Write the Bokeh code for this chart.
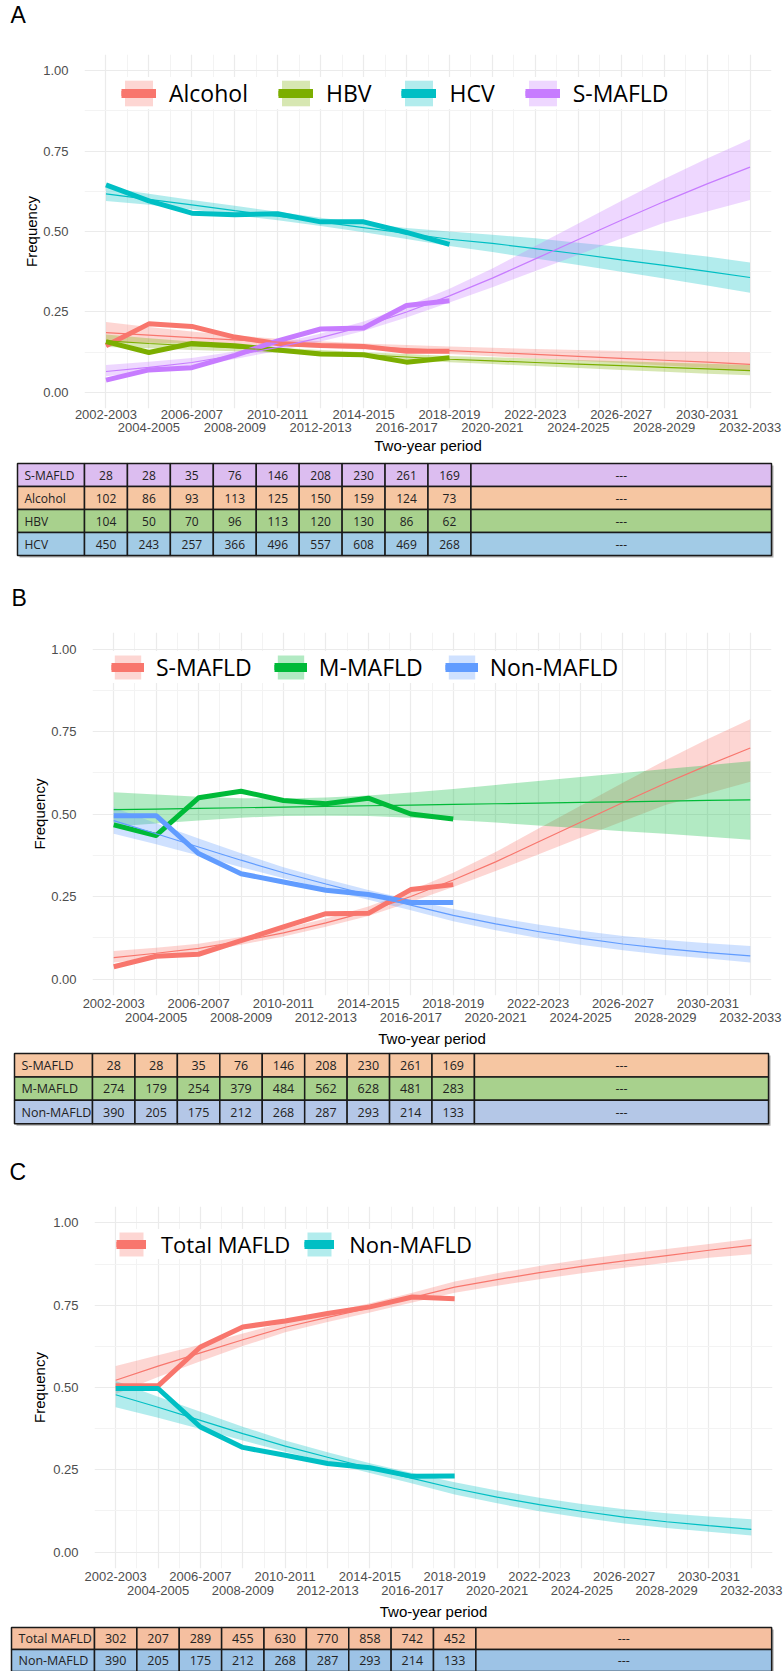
from bokeh.plotting import figure
from bokeh.models import (Range1d, FixedTicker, LinearAxis, Legend, LegendItem,
                          NumeralTickFormatter, CustomJSTickFormatter, ColumnDataSource)
from bokeh.layouts import column
from bokeh.embed import file_html
from bokeh.resources import INLINE
from bokeh.core.properties import value

# ---------------- data ----------------
periods = ["2002-2003", "2004-2005", "2006-2007", "2008-2009", "2010-2011", "2012-2013",
           "2014-2015", "2016-2017", "2018-2019", "2020-2021", "2022-2023", "2024-2025",
           "2026-2027", "2028-2029", "2030-2031", "2032-2033"]
x_all = list(range(len(periods)))
x_obs = list(range(9))
panel_letters = ["A", "B", "C"]

# Panel A
a_alc_obs = [0.145, 0.213, 0.205, 0.172, 0.152, 0.146, 0.143, 0.128, 0.128]
a_alc_fit = [0.186, 0.178, 0.170, 0.163, 0.156, 0.149, 0.142, 0.136, 0.130, 0.124, 0.118, 0.112, 0.106, 0.100, 0.094, 0.087]
a_alc_hi = [0.219, 0.203, 0.189, 0.177, 0.167, 0.159, 0.152, 0.147, 0.143, 0.139, 0.135, 0.132, 0.129, 0.127, 0.126, 0.125]
a_alc_lo = [0.156, 0.154, 0.152, 0.149, 0.145, 0.139, 0.133, 0.126, 0.119, 0.112, 0.105, 0.098, 0.091, 0.084, 0.077, 0.069]

a_hbv_obs = [0.158, 0.124, 0.152, 0.145, 0.132, 0.119, 0.117, 0.094, 0.108]
a_hbv_fit = [0.160, 0.152, 0.145, 0.138, 0.131, 0.124, 0.117, 0.110, 0.103, 0.098, 0.093, 0.088, 0.083, 0.078, 0.073, 0.068]
a_hbv_hi = [0.180, 0.168, 0.158, 0.148, 0.139, 0.132, 0.125, 0.119, 0.113, 0.109, 0.105, 0.101, 0.097, 0.093, 0.089, 0.085]
a_hbv_lo = [0.141, 0.137, 0.132, 0.128, 0.123, 0.116, 0.109, 0.101, 0.094, 0.088, 0.082, 0.076, 0.070, 0.064, 0.058, 0.053]

a_hcv_obs = [0.645, 0.595, 0.557, 0.552, 0.555, 0.530, 0.530, 0.497, 0.460]
a_hcv_fit = [0.617, 0.600, 0.583, 0.565, 0.548, 0.530, 0.512, 0.494, 0.476, 0.463, 0.447, 0.430, 0.412, 0.395, 0.376, 0.357]
a_hcv_hi = [0.637, 0.617, 0.598, 0.580, 0.561, 0.543, 0.526, 0.511, 0.500, 0.490, 0.479, 0.465, 0.452, 0.438, 0.422, 0.404]
a_hcv_lo = [0.595, 0.583, 0.568, 0.551, 0.535, 0.517, 0.498, 0.477, 0.455, 0.436, 0.416, 0.396, 0.375, 0.354, 0.332, 0.310]

a_sm_obs = [0.038, 0.070, 0.077, 0.115, 0.160, 0.197, 0.200, 0.270, 0.285]
a_sm_fit = [0.065, 0.078, 0.093, 0.115, 0.140, 0.170, 0.205, 0.250, 0.300, 0.355, 0.415, 0.475, 0.535, 0.593, 0.648, 0.700]
a_sm_hi = [0.085, 0.095, 0.107, 0.127, 0.152, 0.183, 0.220, 0.268, 0.322, 0.385, 0.455, 0.525, 0.595, 0.663, 0.727, 0.787]
a_sm_lo = [0.050, 0.064, 0.080, 0.104, 0.129, 0.158, 0.191, 0.233, 0.279, 0.327, 0.377, 0.428, 0.478, 0.527, 0.562, 0.598]

# Panel B
b_sm_obs = [0.037, 0.069, 0.075, 0.116, 0.158, 0.198, 0.199, 0.271, 0.286]
b_sm_fit = [0.065, 0.078, 0.093, 0.115, 0.140, 0.170, 0.205, 0.250, 0.300, 0.355, 0.415, 0.475, 0.535, 0.593, 0.648, 0.700]
b_sm_hi = [0.085, 0.095, 0.107, 0.127, 0.152, 0.183, 0.220, 0.268, 0.322, 0.385, 0.455, 0.525, 0.595, 0.663, 0.727, 0.787]
b_sm_lo = [0.050, 0.064, 0.080, 0.104, 0.129, 0.158, 0.191, 0.233, 0.279, 0.327, 0.377, 0.428, 0.478, 0.527, 0.562, 0.598]

b_mm_obs = [0.467, 0.435, 0.549, 0.569, 0.541, 0.531, 0.548, 0.500, 0.485]
b_mm_fit = [0.513, 0.515, 0.517, 0.519, 0.521, 0.523, 0.525, 0.527, 0.529, 0.531, 0.533, 0.535, 0.537, 0.539, 0.541, 0.543]
b_mm_hi = [0.566, 0.559, 0.552, 0.548, 0.547, 0.550, 0.556, 0.565, 0.576, 0.588, 0.600, 0.612, 0.624, 0.636, 0.648, 0.660]
b_mm_lo = [0.462, 0.471, 0.480, 0.489, 0.494, 0.495, 0.494, 0.489, 0.482, 0.474, 0.465, 0.457, 0.448, 0.440, 0.431, 0.422]

b_nm_obs = [0.495, 0.495, 0.380, 0.319, 0.294, 0.269, 0.256, 0.232, 0.232]
b_nm_fit = [0.480, 0.440, 0.400, 0.360, 0.322, 0.288, 0.255, 0.224, 0.193, 0.167, 0.144, 0.124, 0.106, 0.092, 0.080, 0.070]
b_nm_hi = [0.520, 0.472, 0.426, 0.381, 0.339, 0.303, 0.270, 0.240, 0.212, 0.187, 0.165, 0.146, 0.130, 0.118, 0.108, 0.100]
b_nm_lo = [0.440, 0.408, 0.374, 0.339, 0.305, 0.273, 0.240, 0.208, 0.175, 0.148, 0.124, 0.104, 0.087, 0.073, 0.062, 0.050]

# Panel C
c_tot_obs = [0.505, 0.505, 0.623, 0.684, 0.702, 0.725, 0.745, 0.775, 0.770]
c_tot_fit = [0.522, 0.565, 0.605, 0.645, 0.683, 0.713, 0.742, 0.773, 0.805, 0.828, 0.849, 0.868, 0.885, 0.901, 0.917, 0.932]
c_tot_hi = [0.565, 0.598, 0.630, 0.664, 0.698, 0.727, 0.756, 0.788, 0.822, 0.847, 0.869, 0.889, 0.906, 0.921, 0.936, 0.952]
c_tot_lo = [0.480, 0.532, 0.580, 0.626, 0.668, 0.699, 0.728, 0.758, 0.788, 0.809, 0.829, 0.847, 0.864, 0.879, 0.894, 0.905]

c_nm_obs = [0.497, 0.497, 0.380, 0.318, 0.294, 0.269, 0.256, 0.230, 0.231]
c_nm_fit = [0.478, 0.440, 0.400, 0.360, 0.322, 0.288, 0.255, 0.224, 0.193, 0.167, 0.144, 0.124, 0.106, 0.092, 0.080, 0.069]
c_nm_hi = [0.520, 0.472, 0.426, 0.381, 0.339, 0.303, 0.270, 0.240, 0.212, 0.187, 0.165, 0.146, 0.130, 0.118, 0.108, 0.100]
c_nm_lo = [0.440, 0.408, 0.374, 0.339, 0.305, 0.273, 0.240, 0.208, 0.175, 0.148, 0.124, 0.104, 0.087, 0.073, 0.062, 0.050]

# Tables (counts)
tA_names = ["S-MAFLD", "Alcohol", "HBV", "HCV"]
tA_smafld = [28, 28, 35, 76, 146, 208, 230, 261, 169]
tA_alcohol = [102, 86, 93, 113, 125, 150, 159, 124, 73]
tA_hbv = [104, 50, 70, 96, 113, 120, 130, 86, 62]
tA_hcv = [450, 243, 257, 366, 496, 557, 608, 469, 268]

tB_names = ["S-MAFLD", "M-MAFLD", "Non-MAFLD"]
tB_smafld = [28, 28, 35, 76, 146, 208, 230, 261, 169]
tB_mmafld = [274, 179, 254, 379, 484, 562, 628, 481, 283]
tB_nonmafld = [390, 205, 175, 212, 268, 287, 293, 214, 133]

tC_names = ["Total MAFLD", "Non-MAFLD"]
tC_total = [302, 207, 289, 455, 630, 770, 858, 742, 452]
tC_nonmafld = [390, 205, 175, 212, 268, 287, 293, 214, 133]

# ---------------- styling helpers ----------------
W = 783
GRID_MAJOR = "#EBEBEB"
GRID_MINOR = "#F3F3F3"
AX_FONT = "Liberation Sans"
LEG_FONT = "Open Sans"
TAB_FONT = "Open Sans"
LETTER_SIZE = "23px"


def make_header(height, letter, lx, ly):
    p = figure(width=W, height=height, output_backend="svg", toolbar_location=None,
               x_range=Range1d(0, W), y_range=Range1d(height, 0),
               x_axis_location=None, y_axis_location=None,
               min_border_left=0, min_border_right=0, min_border_top=0, min_border_bottom=0,
               frame_align=False)
    p.outline_line_color = None
    p.grid.grid_line_color = None
    p.text(x=[lx], y=[ly], text=[letter], text_font=value(AX_FONT),
           text_font_size=value(LETTER_SIZE), text_color="black",
           text_align="left", text_baseline="middle")
    return p


def make_plot(height, bl, br, bt, bb, series, leg, y_std, ylab_std, x_std, x2_std, xlab_std):
    p = figure(width=W, height=height, output_backend="svg", toolbar_location=None,
               x_range=Range1d(-0.5, 15.5), y_range=Range1d(-0.05, 1.05),
               min_border_left=bl, min_border_right=br, min_border_top=bt, min_border_bottom=bb,
               frame_align=False)
    p.outline_line_color = None
    p.background_fill_color = "white"

    labfmt = CustomJSTickFormatter(args=dict(labels=periods),
                                   code="var s = labels[Math.round(tick)]; return s ? s : '';")
    ax1 = p.xaxis[0]
    ax1.ticker = FixedTicker(ticks=[i for i in x_all if i % 2 == 0])
    ax1.formatter = labfmt
    ax2 = LinearAxis(ticker=FixedTicker(ticks=[i for i in x_all if i % 2 == 1]),
                     formatter=labfmt, axis_label="Two-year period")
    p.add_layout(ax2, "below")
    for ax in (ax1, ax2):
        ax.axis_line_color = None
        ax.major_tick_line_color = None
        ax.minor_tick_line_color = None
        ax.major_tick_out = 0
        ax.major_tick_in = 0
        ax.major_label_text_font = AX_FONT
        ax.major_label_text_font_size = "13px"
        ax.major_label_text_color = "#4D4D4D"
        ax.axis_label_text_font = AX_FONT
        ax.axis_label_text_font_size = "15px"
        ax.axis_label_text_font_style = "normal"
        ax.axis_label_text_color = "black"
    ax1.major_label_standoff = x_std
    ax2.major_label_standoff = x2_std
    ax2.axis_label_standoff = xlab_std

    ya = p.yaxis[0]
    ya.ticker = FixedTicker(ticks=[0, 0.25, 0.5, 0.75, 1.0], minor_ticks=[0.125, 0.375, 0.625, 0.875])
    ya.formatter = NumeralTickFormatter(format="0.00")
    ya.axis_label = "Frequency"
    ya.axis_line_color = None
    ya.major_tick_line_color = None
    ya.minor_tick_line_color = None
    ya.major_tick_out = 0
    ya.major_tick_in = 0
    ya.major_label_standoff = y_std
    ya.axis_label_standoff = ylab_std
    ya.major_label_text_font = AX_FONT
    ya.major_label_text_font_size = "13px"
    ya.major_label_text_color = "#4D4D4D"
    ya.axis_label_text_font = AX_FONT
    ya.axis_label_text_font_size = "15px"
    ya.axis_label_text_font_style = "normal"
    ya.axis_label_text_color = "black"

    p.xgrid.ticker = FixedTicker(ticks=x_all, minor_ticks=[i - 0.5 for i in range(17)])
    p.grid.grid_line_color = GRID_MAJOR
    p.grid.grid_line_width = 1.2
    p.grid.minor_grid_line_color = GRID_MINOR
    p.grid.minor_grid_line_width = 1.0

    bands, obs_lines = [], []
    for s in series:
        b = p.varea(x=x_all, y1=s["lo"], y2=s["hi"], fill_color=s["color"], fill_alpha=0.3)
        bands.append(b)
    for s in series:
        ol = p.line(x=x_obs, y=s["obs"], line_color=s["color"], line_width=5, line_join="round")
        obs_lines.append(ol)
    for s in series:
        p.line(x=x_all, y=s["fit"], line_color=s["color"], line_width=1.2)

    items = []
    nan = float("nan")
    for s, b, ol in zip(series, bands, obs_lines):
        dummy = p.line(x=[nan, nan], y=[nan, nan], line_color=s["color"], line_width=9)
        items.append(LegendItem(label=s["name"], renderers=[b, ol, dummy]))
    legend = Legend(items=items, location=leg["loc"], orientation="horizontal",
                    glyph_width=leg["gw"], glyph_height=leg["gh"], label_standoff=leg["std"],
                    spacing=leg["sp"], padding=4, margin=0, label_height=leg["gh"],
                    background_fill_color="white", background_fill_alpha=1.0,
                    border_line_color=None,
                    label_text_font=LEG_FONT, label_text_font_size=leg["fs"],
                    label_text_color="black", label_text_baseline="middle")
    p.add_layout(legend)
    return p


def make_table(height, top_pad, row_h, x0_abs, ppu, label_left_abs, right_x, names, rows, colors,
               fsize, letter=None, letter_xy=None):
    xr = Range1d((0 - x0_abs) / ppu, (W - x0_abs) / ppu)
    yr = Range1d(start=(height - top_pad) / row_h, end=-top_pad / row_h)
    p = figure(width=W, height=height, output_backend="svg", toolbar_location=None,
               x_range=xr, y_range=yr, x_axis_location=None, y_axis_location=None,
               min_border_left=0, min_border_right=0, min_border_top=0, min_border_bottom=0,
               frame_align=False)
    p.outline_line_color = None
    p.grid.grid_line_color = None
    label_left = (label_left_abs - x0_abs) / ppu
    nrows = len(names)
    # soft drop shadow of the pasted table
    dx, dy = 2.0 / ppu, 2.0 / row_h
    p.quad(left=[label_left + dx], right=[right_x + dx], top=[dy], bottom=[nrows + dy],
           fill_color="#9A9A9A", line_color=None, fill_alpha=0.8)
    L, R, T, B, C = [], [], [], [], []
    for r, (name, vals, col) in enumerate(zip(names, rows, colors)):
        L.append(label_left); R.append(-0.5); T.append(r); B.append(r + 1); C.append(col)
        for i in range(len(vals)):
            L.append(i - 0.5); R.append(i + 0.5); T.append(r); B.append(r + 1); C.append(col)
        L.append(len(vals) - 0.5); R.append(right_x); T.append(r); B.append(r + 1); C.append(col)
    src = ColumnDataSource(dict(left=L, right=R, top=T, bottom=B, color=C))
    p.quad(left="left", right="right", top="top", bottom="bottom", source=src,
           fill_color="color", line_color="#1A1A1A", line_width=1.5)
    p.text(x=[label_left] * nrows, y=[r + 0.5 for r in range(nrows)], text=names,
           text_font=value(TAB_FONT), text_font_size=value(fsize), text_color="#222222",
           text_align="left", text_baseline="middle", x_offset=7)
    nx, ny, nt = [], [], []
    for r, vals in enumerate(rows):
        for i, v in enumerate(vals):
            nx.append(i); ny.append(r + 0.5); nt.append(str(v))
        nx.append((len(vals) - 0.5 + right_x) / 2); ny.append(r + 0.5); nt.append("---")
    p.text(x=nx, y=ny, text=nt, text_font=value(TAB_FONT), text_font_size=value(fsize),
           text_color="#222222", text_align="center", text_baseline="middle")
    if letter is not None:
        # next panel's letter, positioned in this figure's own scale
        p.text(x=[(letter_xy[0] - x0_abs) / ppu], y=[(letter_xy[1] - top_pad) / row_h],
               text=[letter], text_font=value(AX_FONT), text_font_size=value(LETTER_SIZE),
               text_color="black", text_align="left", text_baseline="middle")
    return p


# ---------------- Panel A ----------------
hA = make_header(40, panel_letters[0], 10, 14)
serA = [
    dict(name="Alcohol", color="#F8766D", obs=a_alc_obs, fit=a_alc_fit, lo=a_alc_lo, hi=a_alc_hi),
    dict(name="HBV", color="#7CAE00", obs=a_hbv_obs, fit=a_hbv_fit, lo=a_hbv_lo, hi=a_hbv_hi),
    dict(name="HCV", color="#00BFC4", obs=a_hcv_obs, fit=a_hcv_fit, lo=a_hcv_lo, hi=a_hcv_hi),
    dict(name="S-MAFLD", color="#C77CFF", obs=a_sm_obs, fit=a_sm_fit, lo=a_sm_lo, hi=a_sm_hi),
]
pA = make_plot(421, 84, 12, 14, 53, serA,
               dict(loc=(37, 299), gw=35, gh=32, std=13, sp=30, fs="23px"), 12, 0, 1, 1, 2)
# table A figure: 461..625 (also holds letter B)
tA = make_table(164, 2, 23, 84 + 687 / 32, 687 / 16, 17, 15.5, tA_names,
                [tA_smafld, tA_alcohol, tA_hbv, tA_hcv],
                ["#DCBDF0", "#F6C6A2", "#A8D18D", "#A2CBE6"], "12px",
                letter=panel_letters[1], letter_xy=(11, 597 - 461))

# ---------------- Panel B ----------------
serB = [
    dict(name="S-MAFLD", color="#F8766D", obs=b_sm_obs, fit=b_sm_fit, lo=b_sm_lo, hi=b_sm_hi),
    dict(name="M-MAFLD", color="#00BA38", obs=b_mm_obs, fit=b_mm_fit, lo=b_mm_lo, hi=b_mm_hi),
    dict(name="Non-MAFLD", color="#619CFF", obs=b_nm_obs, fit=b_nm_fit, lo=b_nm_lo, hi=b_nm_hi),
]
pB = make_plot(425, 92, 12, 7, 55, serB,
               dict(loc=(19, 312), gw=33, gh=30, std=12, sp=22, fs="23px"), 12, 0, 3, 2, 5)
# table B figure: 1050..1198 (also holds letter C)
tB = make_table(148, 3, 23.4, 92 + 679 / 32, 679 / 16, 14, 15.43, tB_names,
                [tB_smafld, tB_mmafld, tB_nonmafld],
                ["#F6C6A2", "#A8D18D", "#B4C7E7"], "12.5px",
                letter=panel_letters[2], letter_xy=(9, 1171 - 1050))

# ---------------- Panel C ----------------
serC = [
    dict(name="Total MAFLD", color="#F8766D", obs=c_tot_obs, fit=c_tot_fit, lo=c_tot_lo, hi=c_tot_hi),
    dict(name="Non-MAFLD", color="#00BFC4", obs=c_nm_obs, fit=c_nm_fit, lo=c_nm_lo, hi=c_nm_hi),
]
pC = make_plot(426, 94, 11, 8, 56, serC,
               dict(loc=(22, 309), gw=30, gh=30, std=15, sp=14, fs="22px"), 12, 2, 3, 2, 5)
tC = make_table(47, 3, 22, 94 + 678 / 32, 678 / 16, 11, 15.48, tC_names,
                [tC_total, tC_nonmafld],
                ["#F5BFA0", "#9DC3E6"], "12.5px")

layout = column(hA, pA, tA, pB, tB, pC, tC, spacing=0)
open("out.html", "w").write(file_html(layout, INLINE))
